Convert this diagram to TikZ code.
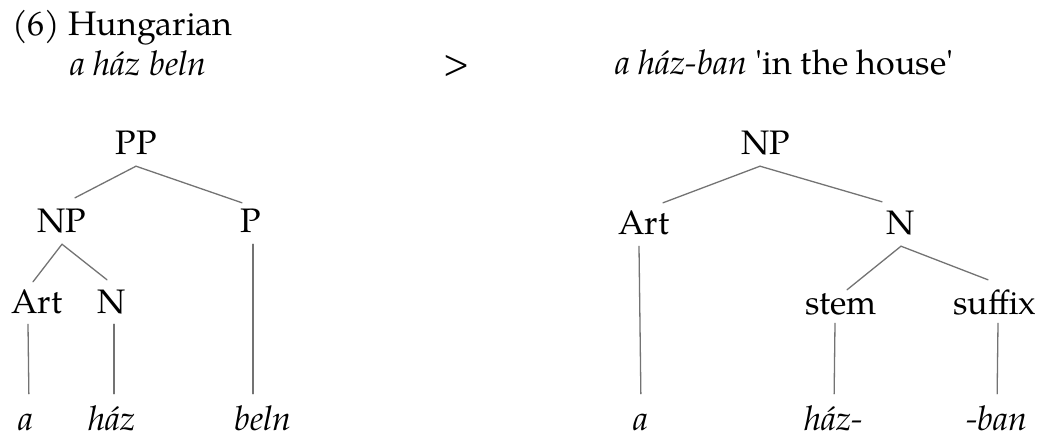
\documentclass[tikz,border=0pt]{standalone}
\usepackage{fontspec}
\setmainfont{TeX Gyre Pagella}
\begin{document}
\begin{tikzpicture}[x=1pt,y=-1pt,
  lab/.style={font=\fontsize{34}{40}\selectfont, inner xsep=0pt, inner ysep=11pt, text height=24pt, text depth=0pt, anchor=base},
  leaf/.style={font=\fontsize{34}{40}\selectfont\itshape, inner sep=0pt, text height=25pt, text depth=0pt, anchor=base},
  hdr/.style={font=\fontsize{34}{40}\selectfont, inner sep=0pt, anchor=base west},
  edge/.style={draw=black!55, line width=1.3pt, line cap=round},
  leafedge/.style={edge, shorten >=11pt}]
\useasboundingbox (0,0) rectangle (1043,435);
% header
\node[hdr] (title) at (12,36) {(6) Hungarian};
\node[hdr] (src) at (70,76) {\itshape a h\'az beln};
\node[hdr, anchor=base] (gt) at (457,75) {>};
\node[hdr] (tgt) at (615,75) {\textit{a h\'az-ban} \textquotesingle in the house\textquotesingle};
% left tree
\node[lab] (PP) at (136,155) {PP};
\node[lab] (NPl) at (62,233) {NP};
\node[lab] (P) at (251,233) {P};
\node[lab] (Artl) at (37,313) {Art};
\node[lab] (Nl) at (112,313) {N};
\node[leaf] (al) at (26,430) {a};
\node[leaf] (haz) at (112,430) {h\'az};
\node[leaf] (beln) at (263,430) {beln};
\draw[edge] (PP.south) -- ([xshift=13pt]NPl.north);
\draw[edge] (PP.south) -- ([xshift=-9pt,yshift=-5pt]P.north);
\draw[edge] (NPl.south) -- ([xshift=-4pt,yshift=-4pt]Artl.north);
\draw[edge] (NPl.south) -- ([xshift=-5pt,yshift=-2pt]Nl.north);
\draw[leafedge] ([xshift=-9pt]Artl.south) -- ([xshift=3pt]al.north);
\draw[leafedge] ([xshift=2pt]Nl.south) -- ([xshift=2pt]haz.north);
\draw[leafedge] ([xshift=2pt]P.south) -- ([xshift=-10pt]beln.north);
% right tree
\node[lab] (NPr) at (766,155) {NP};
\node[lab] (Artr) at (644,235) {Art};
\node[lab] (Nr) at (901,235) {N};
\node[lab] (stem) at (841,315) {stem};
\node[lab] (suffix) at (995,315) {suffix};
\node[leaf] (ar) at (641,430) {a};
\node[leaf] (hazr) at (834,430) {h\'az-};
\node[leaf] (ban) at (997,430) {-ban};
\draw[edge] ([xshift=-6pt]NPr.south) -- ([xshift=19pt,yshift=-3pt]Artr.north);
\draw[edge] ([xshift=-6pt]NPr.south) -- ([xshift=-19pt,yshift=-2pt]Nr.north);
\draw[leafedge] ([xshift=-5pt]Artr.south) -- (ar.north);
\draw[edge] (Nr.south) -- ([xshift=6pt,yshift=-10pt]stem.north);
\draw[edge] (Nr.south) -- ([xshift=-7pt]suffix.north);
\draw[leafedge] ([xshift=-6pt,yshift=3pt]stem.south) -- (hazr.north);
\draw[leafedge] ([xshift=3pt,yshift=3pt]suffix.south) -- (ban.north);
\end{tikzpicture}
\end{document}
